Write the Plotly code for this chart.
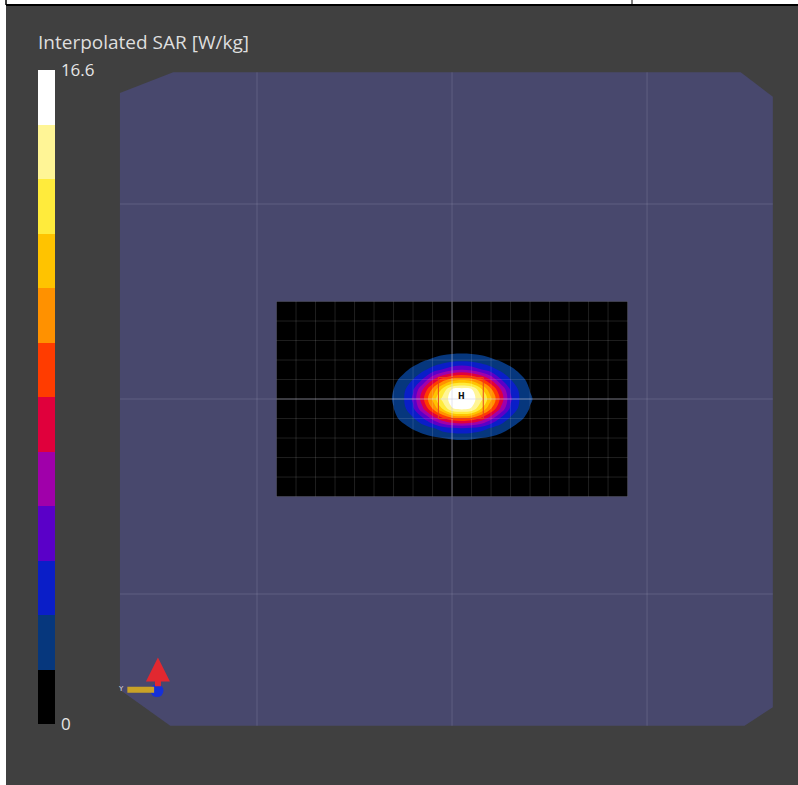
import plotly.graph_objects as go

# ---------------- data ----------------
# SAR area-scan values in W/kg on a 5 mm grid around the peak
x_mm = [-40, -35, -30, -25, -20, -15, -10, -5, 0, 5, 10, 15, 20, 25, 30, 35, 40, 45, 50]
y_mm = [-30, -25, -20, -15, -10, -5, 0, 5, 10, 15, 20, 25, 30]
sar = [
    [0.09, 0.10, 0.11, 0.13, 0.15, 0.17, 0.19, 0.21, 0.22, 0.23, 0.22, 0.21, 0.19, 0.17, 0.15, 0.13, 0.11, 0.10, 0.09],
    [0.10, 0.12, 0.15, 0.20, 0.26, 0.32, 0.38, 0.46, 0.53, 0.55, 0.53, 0.46, 0.38, 0.32, 0.26, 0.20, 0.15, 0.12, 0.10],
    [0.13, 0.19, 0.28, 0.40, 0.62, 0.85, 1.15, 1.38, 1.53, 1.61, 1.53, 1.37, 1.13, 0.82, 0.59, 0.38, 0.28, 0.19, 0.13],
    [0.21, 0.32, 0.55, 1.00, 1.50, 2.05, 2.62, 3.41, 3.90, 4.08, 3.90, 3.41, 2.62, 2.00, 1.36, 0.85, 0.52, 0.32, 0.21],
    [0.30, 0.52, 1.05, 1.75, 2.60, 3.95, 5.91, 7.97, 9.28, 9.75, 9.28, 7.97, 5.91, 3.90, 2.52, 1.59, 0.94, 0.52, 0.30],
    [0.38, 0.73, 1.35, 2.33, 3.88, 6.66, 9.69, 12.40, 15.10, 15.60, 15.10, 12.40, 9.69, 6.66, 3.88, 2.33, 1.30, 0.70, 0.36],
    [0.40, 0.80, 1.50, 2.60, 4.40, 7.90, 11.30, 14.20, 15.90, 16.60, 15.90, 14.20, 11.30, 7.90, 4.40, 2.60, 1.55, 0.90, 0.42],
    [0.38, 0.74, 1.38, 2.38, 3.97, 6.87, 9.95, 12.70, 15.30, 15.80, 15.30, 12.70, 9.95, 6.87, 3.97, 2.38, 1.32, 0.70, 0.36],
    [0.33, 0.57, 1.04, 1.76, 2.79, 4.27, 6.75, 8.87, 10.29, 10.80, 10.29, 8.87, 6.75, 4.27, 2.79, 1.76, 1.00, 0.55, 0.32],
    [0.24, 0.36, 0.63, 1.07, 1.67, 2.43, 3.39, 4.24, 5.15, 5.52, 5.15, 4.24, 3.39, 2.43, 1.67, 1.07, 0.63, 0.36, 0.24],
    [0.15, 0.24, 0.34, 0.53, 0.80, 1.21, 1.57, 1.98, 2.24, 2.33, 2.24, 1.98, 1.57, 1.21, 0.80, 0.53, 0.34, 0.24, 0.15],
    [0.12, 0.14, 0.20, 0.27, 0.36, 0.49, 0.65, 0.77, 0.88, 0.93, 0.88, 0.77, 0.65, 0.49, 0.36, 0.27, 0.20, 0.14, 0.12],
    [0.10, 0.12, 0.15, 0.18, 0.22, 0.26, 0.29, 0.32, 0.34, 0.35, 0.34, 0.32, 0.29, 0.26, 0.22, 0.18, 0.15, 0.12, 0.10],
]
sar_min = 0.0
sar_max = 16.6
band_colors = [
    "#000000", "#06377d", "#0a1ec8", "#5a00c8", "#a000aa", "#e0003c",
    "#ff3c00", "#ff9100", "#ffc300", "#ffeb3c", "#fff596", "#ffffff",
]
cbar_tick_vals = [0, 16.6]
cbar_tick_text = ["0", "16.6"]
cbar_title = "Interpolated SAR [W/kg]"

# geometry of the measurement setup (mm)
scan_x = [-90, 90]
scan_y = [-50, 50]
scan_step = 10
plate_lines = [-100, 0, 100]
plate_outline = [(-170.3, 156.9), (-143, 167.5), (148, 167.5), (164.5, 155),
                 (164.5, -158), (150, -167.5), (-144.5, -167.5), (-170.3, -149)]
zoom_box_x = [-7, 16]
zoom_box_y = [-10, 11]
peak_xy = (5, 1.5)

# ---------------- styling ----------------
BG = "#404040"
PLATE = "#48486d"
FONT = "Open Sans"
W, H = 798, 785
x_range = [-231.8, 177.4]
y_range = [-197.9, 204.6]

n = len(band_colors)
colorscale = []
for i, c in enumerate(band_colors):
    colorscale.append([i / n, c])
    colorscale.append([(i + 1) / n, c])

step = (sar_max - sar_min) / n

fig = go.Figure()
fig.add_trace(go.Contour(
    x=x_mm, y=y_mm, z=sar,
    zmin=sar_min, zmax=sar_max, zauto=False,
    colorscale=colorscale,
    contours=dict(start=sar_min + step, end=sar_max - step, size=step,
                  coloring="fill", showlines=False),
    line=dict(width=0, smoothing=1.0),
    hoverinfo="skip",
    colorbar=dict(
        x=38 / W, xanchor="left", y=1 - 70 / H, yanchor="top",
        len=654 / H, lenmode="fraction", thickness=17,
        xpad=0, ypad=0, outlinewidth=0,
        tickmode="array", tickvals=cbar_tick_vals, ticktext=cbar_tick_text,
        ticks="outside", ticklen=3, tickcolor="rgba(0,0,0,0)",
        tickfont=dict(family=FONT, size=17, color="#e6e6e6"),
    ),
))

shapes = []
# plate
path = "M " + " L ".join(f"{px},{py}" for px, py in plate_outline) + " Z"
shapes.append(dict(type="path", path=path, xref="x", yref="y",
                   fillcolor=PLATE, line=dict(width=0), layer="below"))
# plate grid lines (faint)
for v in plate_lines:
    shapes.append(dict(type="line", xref="x", yref="y", x0=v, x1=v, y0=-167.5, y1=167.5,
                       line=dict(color="rgba(190,190,215,0.13)", width=1.5), layer="below"))
    shapes.append(dict(type="line", xref="x", yref="y", y0=v, y1=v, x0=-170.3, x1=164.5,
                       line=dict(color="rgba(190,190,215,0.13)", width=1.5), layer="below"))
# scan area
shapes.append(dict(type="rect", xref="x", yref="y", x0=scan_x[0], x1=scan_x[1],
                   y0=scan_y[0], y1=scan_y[1], fillcolor="#000000", line=dict(width=0),
                   layer="below"))
gx = scan_x[0]
while gx <= scan_x[1]:
    shapes.append(dict(type="line", xref="x", yref="y", x0=gx, x1=gx, y0=scan_y[0], y1=scan_y[1],
                       line=dict(color="rgba(255,255,255,0.12)", width=1), layer="above"))
    gx += scan_step
gy = scan_y[0]
while gy <= scan_y[1]:
    shapes.append(dict(type="line", xref="x", yref="y", y0=gy, y1=gy, x0=scan_x[0], x1=scan_x[1],
                       line=dict(color="rgba(255,255,255,0.12)", width=1), layer="above"))
    gy += scan_step
# plate centre lines, visible across the scan area
shapes.append(dict(type="line", xref="x", yref="y", x0=0, x1=0, y0=scan_y[0], y1=scan_y[1],
                   line=dict(color="rgba(200,200,225,0.32)", width=1.5), layer="above"))
shapes.append(dict(type="line", xref="x", yref="y", y0=0, y1=0, x0=scan_x[0], x1=scan_x[1],
                   line=dict(color="rgba(200,200,225,0.32)", width=1.5), layer="above"))
# zoom-scan box
shapes.append(dict(type="rect", xref="x", yref="y", x0=zoom_box_x[0], x1=zoom_box_x[1],
                   y0=zoom_box_y[0], y1=zoom_box_y[1], line=dict(color="#e8401c", width=1),
                   layer="above"))
# page remnants: white strip on top/left with table border
shapes.append(dict(type="rect", xref="paper", yref="paper", x0=0, x1=1, y0=1 - 6 / H, y1=1,
                   fillcolor="#ffffff", line=dict(width=0), layer="above"))
shapes.append(dict(type="rect", xref="paper", yref="paper", x0=0, x1=6 / W, y0=0, y1=1,
                   fillcolor="#ffffff", line=dict(width=0), layer="above"))
shapes.append(dict(type="line", xref="paper", yref="paper", x0=6 / W, x1=1, y0=1 - 5 / H, y1=1 - 5 / H,
                   line=dict(color="#000000", width=2), layer="above"))
shapes.append(dict(type="line", xref="paper", yref="paper", x0=6 / W, x1=6 / W, y0=1 - 5 / H, y1=1,
                   line=dict(color="#000000", width=1.5), layer="above"))
shapes.append(dict(type="line", xref="paper", yref="paper", x0=632 / W, x1=632 / W, y0=1 - 5 / H, y1=1,
                   line=dict(color="#000000", width=1), layer="above"))

annotations = [
    dict(text=cbar_title, xref="paper", yref="paper", x=36 / W, y=1 - 42 / H,
         xanchor="left", yanchor="middle", showarrow=False,
         font=dict(family=FONT, size=19, color="#dedede")),
    dict(text="<b>H</b>", xref="x", yref="y", x=peak_xy[0], y=peak_xy[1],
         showarrow=False, font=dict(family="DejaVu Sans", size=8, color="#111111")),
    # orientation gizmo
    dict(x=-150.8, y=-132.5, ax=-150.8, ay=-148, xref="x", yref="y", axref="x", ayref="y",
         showarrow=True, arrowhead=2, arrowsize=0.8, arrowwidth=6, arrowcolor="#e22830", text=""),
    dict(x=-166.5, y=-149, ax=-152, ay=-149, xref="x", yref="y", axref="x", ayref="y",
         showarrow=True, arrowhead=0, arrowwidth=6, arrowcolor="#c9a227", text=""),
    dict(text="Y", xref="x", yref="y", x=-169.5, y=-148.5, showarrow=False,
         font=dict(family="DejaVu Sans", size=7, color="#dddddd")),
]

fig.add_trace(go.Scatter(x=[-151.3], y=[-149.5], mode="markers",
                         marker=dict(size=13, color="#1630d8", line=dict(width=0)),
                         hoverinfo="skip", showlegend=False))

fig.update_layout(
    width=W, height=H,
    margin=dict(l=0, r=0, t=0, b=0, pad=0),
    paper_bgcolor=BG, plot_bgcolor=BG,
    shapes=shapes, annotations=annotations,
    showlegend=False,
    xaxis=dict(range=x_range, visible=False, fixedrange=True),
    yaxis=dict(range=y_range, visible=False, fixedrange=True),
)

fig.write_html("out.html", config={"displayModeBar": False},
               post_script="document.body.style.margin='0';document.body.style.overflow='hidden';")
